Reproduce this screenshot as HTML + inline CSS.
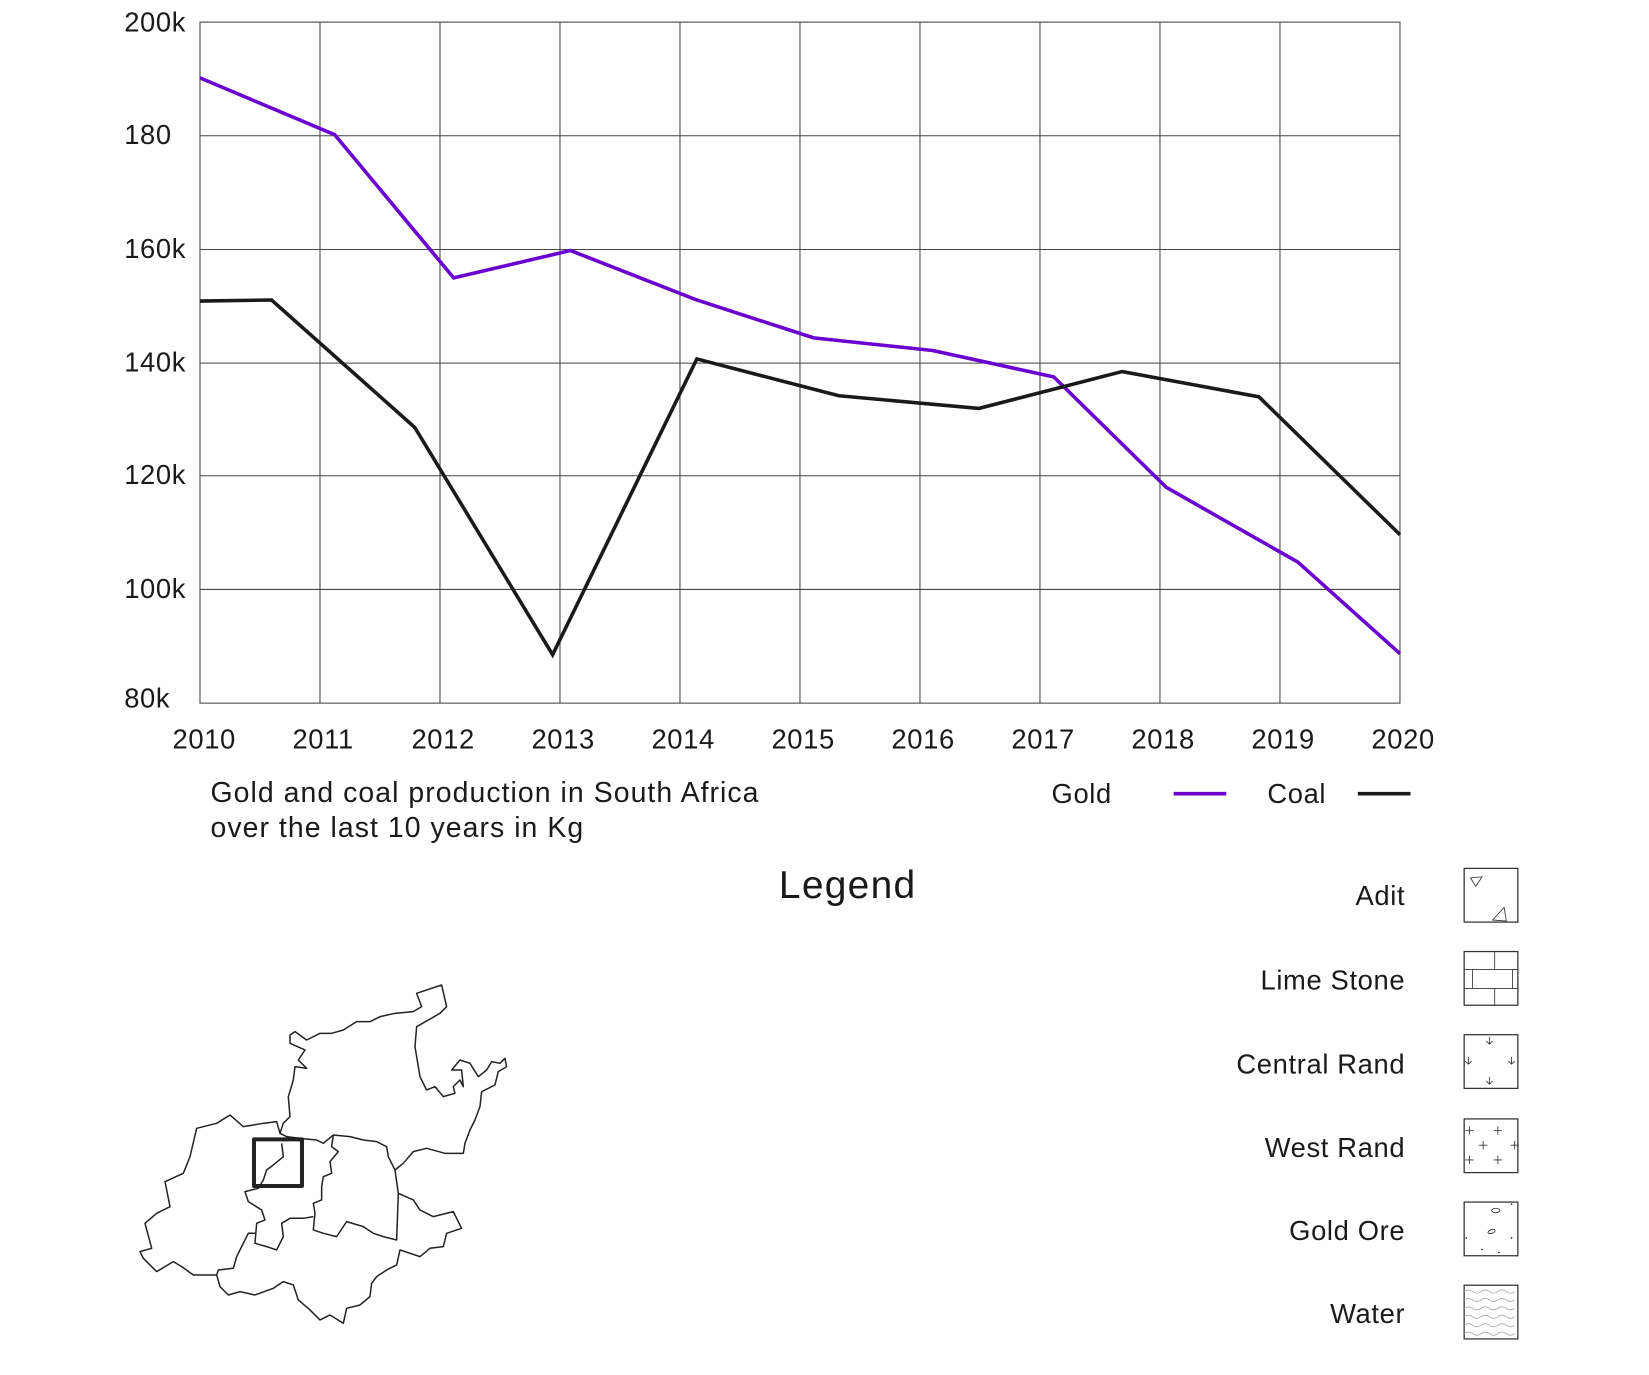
<!DOCTYPE html>
<html><head><meta charset="utf-8"><style>
html,body{margin:0;padding:0;background:#fff;}
svg{display:block;}
text{font-family:"Liberation Sans",sans-serif;fill:#1a1a1a;letter-spacing:0.6px;}
</style></head><body>
<svg width="1649" height="1375" viewBox="0 0 1649 1375" xmlns="http://www.w3.org/2000/svg">
<g transform="scale(1.0526)">
  <g stroke="#444" stroke-width="1" fill="none">
    <rect x="190" y="21" width="1140" height="647"/>
    <line x1="304" y1="21" x2="304" y2="668"/><line x1="418" y1="21" x2="418" y2="668"/>
    <line x1="532" y1="21" x2="532" y2="668"/><line x1="646" y1="21" x2="646" y2="668"/>
    <line x1="760" y1="21" x2="760" y2="668"/><line x1="874" y1="21" x2="874" y2="668"/>
    <line x1="988" y1="21" x2="988" y2="668"/><line x1="1102" y1="21" x2="1102" y2="668"/>
    <line x1="1216" y1="21" x2="1216" y2="668"/>
    <line x1="190" y1="129" x2="1330" y2="129"/><line x1="190" y1="237" x2="1330" y2="237"/>
    <line x1="190" y1="345" x2="1330" y2="345"/><line x1="190" y1="452" x2="1330" y2="452"/>
    <line x1="190" y1="560" x2="1330" y2="560"/>
  </g>
  <polyline fill="none" stroke="#6a00d0" stroke-width="3.4" points="190,74 318,128 431,264 542,238 662,285 773,321 886,333 1001,358 1108,463 1233,534 1330,621"/>
  <polyline fill="none" stroke="#1a1a1a" stroke-width="3.4" points="190,286 258,285 394,406 525,622 662,341 797,376 930,388 1066,353 1196,377 1330,508"/>
  <g font-size="26">
    <text x="118" y="30">200k</text><text x="118" y="137">180</text>
    <text x="118" y="245">160k</text><text x="118" y="353">140k</text>
    <text x="118" y="460">120k</text><text x="118" y="568">100k</text>
    <text x="118" y="672">80k</text>
  </g>
  <g font-size="26" text-anchor="middle">
    <text x="194" y="711">2010</text><text x="307" y="711">2011</text><text x="421" y="711">2012</text>
    <text x="535" y="711">2013</text><text x="649" y="711">2014</text><text x="763" y="711">2015</text>
    <text x="877" y="711">2016</text><text x="991" y="711">2017</text><text x="1105" y="711">2018</text>
    <text x="1219" y="711">2019</text><text x="1333" y="711">2020</text>
  </g>
  <text x="200" y="762" font-size="27" style="letter-spacing:1px">Gold and coal production in South Africa</text>
  <text x="200" y="795" font-size="27" style="letter-spacing:1px">over the last 10 years in Kg</text>
  <text x="999" y="763" font-size="26">Gold</text>
  <line x1="1115" y1="754" x2="1165" y2="754" stroke="#6a00d0" stroke-width="3.5"/>
  <text x="1204" y="763" font-size="26">Coal</text>
  <line x1="1290" y1="754" x2="1340" y2="754" stroke="#1a1a1a" stroke-width="3.5"/>
  <text x="740" y="853" font-size="37" style="letter-spacing:1.2px">Legend</text>
  <g font-size="26" text-anchor="end" style="letter-spacing:1.1px">
    <text x="1335" y="860">Adit</text><text x="1335" y="940">Lime Stone</text>
    <text x="1335" y="1020">Central Rand</text><text x="1335" y="1099">West Rand</text>
    <text x="1335" y="1178">Gold Ore</text><text x="1335" y="1257">Water</text>
  </g>
  <g fill="none" stroke="#333" stroke-width="1.2">
    <rect x="1391" y="825" width="51" height="51"/>
    <polygon points="1397,834 1408,833 1402,842" stroke-width="0.8"/>
    <polygon points="1418,874 1429,862 1431,875" stroke-width="0.8"/>
    <rect x="1391" y="904" width="51" height="51"/>
    <g stroke-width="0.8"><line x1="1391" y1="921" x2="1442" y2="921"/><line x1="1391" y1="939" x2="1442" y2="939"/>
    <line x1="1420" y1="904" x2="1420" y2="921"/><line x1="1420" y1="939" x2="1420" y2="955"/>
    <line x1="1399" y1="921" x2="1399" y2="939"/><line x1="1437" y1="921" x2="1437" y2="939"/></g>
    <rect x="1391" y="983" width="51" height="51"/>
    <g stroke-width="0.8">
      <path d="M1415,985v7M1412,989l3,3l3,-3"/><path d="M1415,1023v7M1412,1027l3,3l3,-3"/>
      <path d="M1395,1004v7M1392,1008l3,3l3,-3"/><path d="M1436,1004v7M1433,1008l3,3l3,-3"/>
    </g>
    <rect x="1391" y="1063" width="51" height="51"/>
    <g stroke-width="0.8">
      <path d="M1392,1074h8M1396,1070v8M1419,1074h8M1423,1070v8M1405,1088h8M1409,1084v8M1435,1088h8M1439,1084v8M1392,1102h8M1396,1098v8M1419,1102h8M1423,1098v8"/>
    </g>
    <rect x="1391" y="1142" width="51" height="51"/>
    <ellipse cx="1421" cy="1150" rx="4" ry="2" stroke-width="0.8"/>
    <ellipse cx="1417" cy="1170" rx="3.5" ry="1.8" transform="rotate(-20 1417 1170)" stroke-width="0.8"/>
    <rect x="1391" y="1221" width="51" height="51"/>
    <path stroke="#aaa" stroke-width="0.8" d="M1391,1227q4,-3 8,0t8,0t8,0t8,0t8,0t8,0M1391,1235q4,-3 8,0t8,0t8,0t8,0t8,0t8,0M1391,1243q4,-3 8,0t8,0t8,0t8,0t8,0t8,0M1391,1251q4,-3 8,0t8,0t8,0t8,0t8,0t8,0M1391,1259q4,-3 8,0t8,0t8,0t8,0t8,0t8,0M1391,1267q4,-3 8,0t8,0t8,0t8,0t8,0t8,0"/>
  </g>
  <g fill="#222"><circle cx="1436" cy="1144" r="0.8"/><circle cx="1393" cy="1176" r="0.8"/><circle cx="1436" cy="1176" r="0.8"/><circle cx="1408" cy="1187" r="0.8"/><circle cx="1424" cy="1190" r="0.8"/></g>
</g>
<g transform="translate(130,980) scale(0.3333)" fill="none" stroke="#222" stroke-width="4.5" stroke-linejoin="round">
  <polygon points="480,165 495,155 530,180 570,160 605,160 640,150 680,125 720,125 750,110 795,100 850,95 875,80 860,40 935,15 950,80 930,100 860,140 855,200 870,290 890,330 915,320 940,350 975,340 970,320 990,300 1000,320 995,270 965,270 990,240 1020,250 1045,290 1070,270 1085,245 1110,250 1125,235 1130,260 1105,275 1095,315 1055,335 1050,380 1035,420 1020,450 1005,490 1000,520 945,520 890,505 850,515 820,550 795,570 805,640 850,660 870,690 910,710 970,695 995,745 950,760 940,800 900,805 870,830 810,810 800,855 770,870 740,890 725,910 720,950 690,975 650,985 640,1030 600,1005 570,1020 540,990 505,960 490,915 460,905 430,925 375,945 330,935 295,945 270,920 260,885 230,885 190,885 155,860 130,845 80,875 40,835 30,815 65,805 45,730 80,700 120,680 105,605 160,580 180,530 200,445 260,430 300,405 340,440 400,430 440,425 450,460 460,430 480,410 475,350 490,300 495,260 530,265 505,240 525,210 480,190"/>
  <polyline points="450,460 470,470 510,475 560,480 580,490 610,465 660,470 700,480 740,485 770,500 775,530 790,560 795,570"/>
  <polyline points="610,465 605,500 625,515 600,545 605,580 580,590 575,620 575,660 550,670 555,700 550,750 580,760 620,770 650,725 700,740 730,760 760,770 800,780 805,640"/>
  <polyline points="455,490 460,530 430,555 410,570 400,600 385,625 345,635 355,665 395,690 405,720 380,730 375,790 410,800 440,810 460,770 455,730 480,715 520,715 550,710"/>
  <polyline points="375,760 355,760 335,800 320,830 310,865 265,870 260,885"/>
  <rect x="372" y="478" width="144" height="140" stroke-width="12"/>
</g>
</svg>
</body></html>
